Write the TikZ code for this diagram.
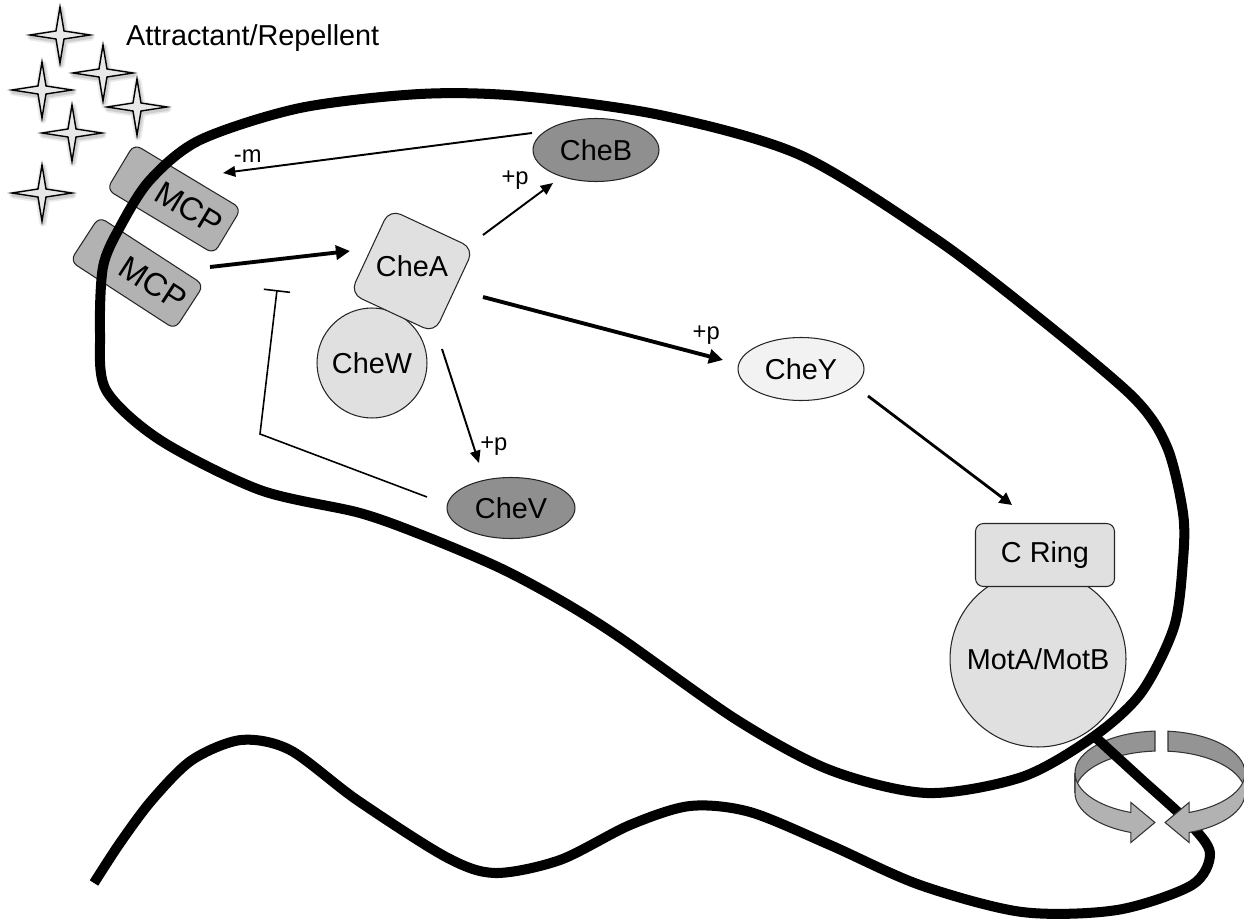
\documentclass[tikz,border=0pt]{standalone}
\usepackage{fontspec}
\setmainfont{Liberation Sans}
\usetikzlibrary{shapes.geometric,arrows.meta,calc}

\begin{document}
\begin{tikzpicture}[x=0.02cm,y=-0.02cm]
	\useasboundingbox (0,0) rectangle (1244,919);

	\def\sparkle{(0,-28) -- (4,-4) -- (30,0) -- (4,4) -- (0,28) -- (-4,4) -- (-30,0) -- (-4,-4) -- cycle} %ligand

	\colorlet{protein light}{black!12}
	\colorlet{protein pale}{black!5}
	\colorlet{protein dark}{black!44}
	\colorlet{receptor}{black!30}
	\colorlet{ring back}{black!42}
	\colorlet{ring front}{black!30}

	\tikzset{
		big/.style={font=\fontsize{16.4}{19}\selectfont},
		small/.style={font=\fontsize{13.5}{16}\selectfont},
		protein/.style={draw=black!85, line width=0.6pt, inner sep=0pt, big},
		mcpbox/.style={protein, fill=receptor, rounded corners=4.5pt, minimum width=2.5cm, minimum height=1.06cm, font=\fontsize{18.5}{21}\selectfont},
		blob/.style={protein, ellipse, minimum width=2.52cm, minimum height=1.26cm},
		starshape/.style={fill=black!9, draw=black, line width=0.8pt},
		ringarc/.style={x radius=85, y radius=42},
		ringpart/.style={draw=black!80, line width=0.6pt},
		membrane/.style={line width=5.7pt, line join=round},
		arr/.style={line width=1.1pt, -{Triangle[length=7pt,width=6pt]}},
		midarr/.style={line width=1.6pt, -{Triangle[length=7pt,width=7pt]}},
		thickarr/.style={line width=2.2pt, -{Triangle[length=8pt,width=8pt]}},
		inhib/.style={line width=0.9pt, -{Bar[width=15pt]}},
	}

	% ligands outside the cell
	\foreach \sx/\sy in {60/35, 103/73, 42/90, 137/107, 72/133, 42/193} {
		\draw[black, opacity=0.08, line width=4pt, line join=round, shift={(\sx+1,\sy+2)}] \sparkle;
		\draw[black, opacity=0.12, line width=2pt, line join=round, shift={(\sx+1,\sy+2)}] \sparkle;
		\filldraw[starshape, shift={(\sx,\sy)}] \sparkle;
	}
	\node[big, anchor=west] (cue) at (120,38) {Attractant/Repellent};

	% rotation arrows, back side
	\coordinate (ringc) at (1160,773);
	\filldraw[ringpart, fill=ring back] ($(ringc)+(266.6:85 and 42)$) arc[start angle=266.6, end angle=180, ringarc]
		-- ++(0,20) arc[start angle=180, end angle=266.6, ringarc] -- cycle;
	\filldraw[ringpart, fill=ring back] ($(ringc)+(275.4:85 and 42)$) arc[start angle=275.4, end angle=360, ringarc]
		-- ++(0,20) arc[start angle=360, end angle=275.4, ringarc] -- cycle;

	% flagellum
	\draw[membrane, line cap=butt] plot[smooth] coordinates {(1093,735) (1140,778) (1188,822) (1210,853) (1192,885)
		(1117,910) (1022,912) (920,885) (830,845) (750,812) (690,806) (630,825) (560,860) (495,873) (446,857)
		(357,800) (290,750) (241,740) (192,760) (152,800) (120,843) (94,883)};

	% proteins
	\node[mcpbox, rotate=-31] (mcpA) at (174,199) {\hspace*{20pt}MCP};
	\node[mcpbox, rotate=-33] (mcpB) at (137,273) {\hspace*{22pt}MCP};
	\node[protein, circle, fill=protein light, minimum size=2.2cm] (cheW) at (372,363) {CheW};
	\node[protein, fill=protein light, rounded corners=7pt, minimum size=1.86cm, rotate=-25] (cheA) at (412,271) {};
	\node[big] (cheAtext) at (412,266) {CheA};
	\node[blob, fill=protein dark] (cheB) at (596,150) {CheB};
	\node[blob, fill=protein dark, minimum width=2.56cm, minimum height=1.22cm] (cheV) at (511,508) {CheV};
	\node[blob, fill=protein pale] (cheY) at (801,369) {CheY};
	\node[protein, circle, fill=protein light, minimum size=3.52cm] (motAB) at (1038,659) {MotA/MotB};
	\node[protein, fill=protein light, rounded corners=4.5pt, minimum width=2.78cm, minimum height=1.26cm] (cRing) at (1045,555) {C Ring};

	% cell membrane
	\draw[membrane] plot[smooth cycle] coordinates {(100,333) (103,267) (120,227) (150,180) (200,140) (300,108)
		(420,94) (520,96) (660,115) (800,155) (933,237) (1033,313) (1133,397) (1167,447) (1183,513) (1183,560)
		(1174,627) (1141,693) (1093,737) (1022,777) (927,793) (830,770) (737,720) (619,637) (560,600) (500,568)
		(427,537) (360,513) (260,490) (160,440) (106,390)};

	% rotation arrows, front side
	\filldraw[ringpart, fill=ring front] ($(ringc)+(180:85 and 42)$) arc[start angle=180, end angle=110, ringarc]
		-- ++(0,-10) -- ++(24,20) -- ++(-24,20) -- ++(0,-10) arc[start angle=110, end angle=180, ringarc] -- cycle;
	\filldraw[ringpart, fill=ring front] ($(ringc)+(0:85 and 42)$) arc[start angle=0, end angle=70, ringarc]
		-- ++(0,-10) -- ++(-24,20) -- ++(24,20) -- ++(0,-10) arc[start angle=70, end angle=0, ringarc] -- cycle;

	% signalling
	\draw[arr] ($(cheB)+(-64,-17)$) -- node[small, pos=0.92, above] (lblM) {-m} ($(mcpA)+(49,-26)$);
	\draw[arr] ($(cheA)+(71,-36)$) -- node[small, pos=0.75, above left] (lblB) {+p} ($(cheB)+(-43,33)$);
	\draw[thickarr] ($(mcpB)+(73,-6)$) -- ($(cheA)+(-62,-20)$);
	\draw[thickarr] ($(cheA)+(71,26)$) -- node[small, pos=0.93, above=2pt] (lblY) {+p} ($(cheY)+(-78,-9)$);
	\draw[arr] ($(cheA)+(30,78)$) -- node[small, pos=0.85, right] (lblV) {+p} ($(cheV)+(-32,-45)$);
	\draw[midarr] ($(cheY)+(67,27)$) -- ($(cRing)+(-33,-50)$);
	\draw[inhib] ($(cheV)+(-84,-11)$) -- ($(mcpB)+(123,161)$) -- ($(mcpB)+(140,17)$);
\end{tikzpicture}
\end{document}
